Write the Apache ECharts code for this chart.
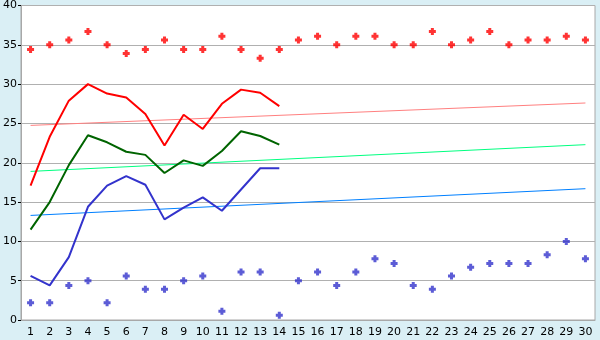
<!DOCTYPE html>
<html><head><meta charset="utf-8">
<script src="https://cdn.jsdelivr.net/npm/echarts@6/dist/echarts.min.js"></script>
<style>html,body{margin:0;padding:0;background:#daeff5;}#c{width:600px;height:340px;}</style>
</head><body><div id="c"></div>
<script>
var days = [];
for (var i = 1; i <= 30; i++) days.push(String(i));
var maxPts = [34.4,35.0,35.6,36.7,35.0,33.9,34.4,35.6,34.4,34.4,36.1,34.4,33.3,34.4,35.6,36.1,35.0,36.1,36.1,35.0,35.0,36.7,35.0,35.6,36.7,35.0,35.6,35.6,36.1,35.6];
var minPts = [2.2,2.2,4.4,5.0,2.2,5.6,3.9,3.9,5.0,5.6,1.1,6.1,6.1,0.6,5.0,6.1,4.4,6.1,7.8,7.2,4.4,3.9,5.6,6.7,7.2,7.2,7.2,8.3,10.0,7.8];
var redLine = [17.1,23.3,27.9,30.0,28.8,28.3,26.2,22.2,26.1,24.3,27.5,29.3,28.9,27.2];
var greenLine = [11.5,15.0,19.7,23.5,22.6,21.4,21.0,18.7,20.3,19.6,21.5,24.0,23.4,22.3];
var blueLine = [5.6,4.4,8.0,14.4,17.1,18.3,17.2,12.8,14.3,15.6,13.9,16.6,19.3,19.3];
var trendRed = [24.75, 27.6];
var trendGreen = [18.9, 22.3];
var trendBlue = [13.3, 16.7];

var plus = 'path://M2,0H5V2H7V5H5V7H2V5H0V2H2Z';
function trend(v){ return [[0, v[0]], [days.length-1, v[1]]]; }
var chart = echarts.init(document.getElementById('c'), null, {renderer:'canvas'});
chart.setOption({
  backgroundColor: '#daeff5',
  animation: false,
  textStyle: {fontFamily: 'DejaVu Sans'},
  grid: {left: 20, right: 5, top: 5, bottom: 20, show: true, backgroundColor: '#ffffff', borderColor: '#a8a8a8', borderWidth: 1},
  xAxis: {
    type: 'category', data: days, boundaryGap: true,
    axisLine: {lineStyle: {color: '#a8a8a8'}},
    axisTick: {alignWithLabel: true, length: 4, lineStyle: {color: '#000'}},
    axisLabel: {color: '#000', fontSize: 11, margin: 7, interval: 0},
    splitLine: {show: false}
  },
  yAxis: {
    type: 'value', min: 0, max: 40, interval: 5,
    axisLine: {show: true, lineStyle: {color: '#a8a8a8'}},
    axisTick: {show: true, length: 3, lineStyle: {color: '#000'}},
    axisLabel: {color: '#000', fontSize: 11, margin: 4},
    splitLine: {lineStyle: {color: '#b0b0b0', width: 1}}
  },
  series: [
    {type: 'line', data: trend(trendRed), symbol: 'none', lineStyle: {color: '#ff8080', width: 1}, z: 1},
    {type: 'line', data: trend(trendGreen), symbol: 'none', lineStyle: {color: '#00ff80', width: 1}, z: 1},
    {type: 'line', data: trend(trendBlue), symbol: 'none', lineStyle: {color: '#0080ff', width: 1}, z: 1},
    {type: 'line', data: redLine, symbol: 'none', lineStyle: {color: '#ff0000', width: 2}, z: 2},
    {type: 'line', data: greenLine, symbol: 'none', lineStyle: {color: '#006400', width: 2}, z: 2},
    {type: 'line', data: blueLine, symbol: 'none', lineStyle: {color: '#3333cc', width: 2}, z: 2},
    {type: 'scatter', data: maxPts, symbol: plus, symbolSize: 7, itemStyle: {color: '#ff0000'}, z: 3},
    {type: 'scatter', data: minPts, symbol: plus, symbolSize: 7, itemStyle: {color: '#3333cc'}, z: 3}
  ]
});
</script></body></html>
